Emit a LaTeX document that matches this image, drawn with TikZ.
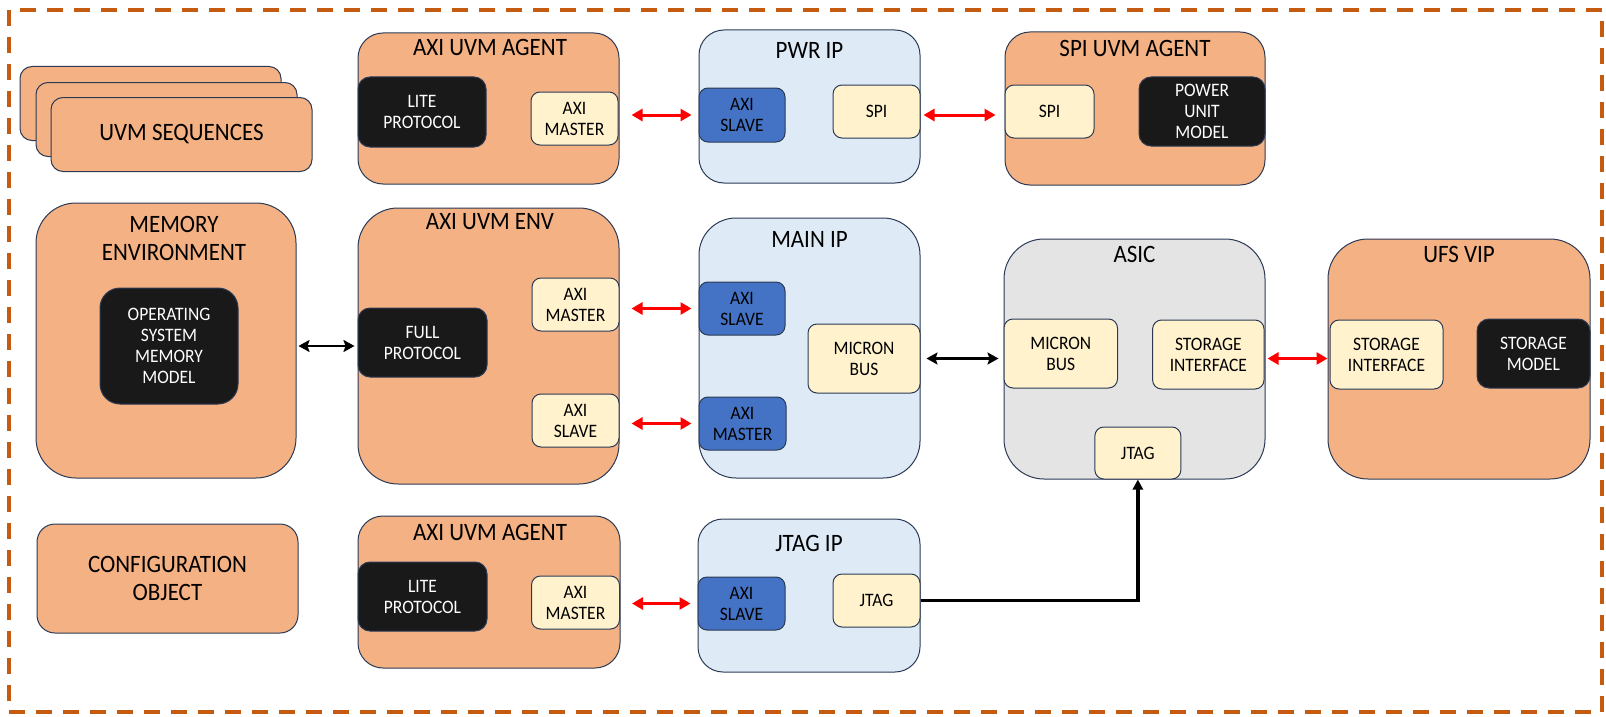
\documentclass[tikz,border=0pt]{standalone}
\usepackage{fontspec}
\setmainfont{Carlito}[FakeStretch=0.92]
\usepackage{xcolor}
\usetikzlibrary{arrows.meta, positioning}

\definecolor{sand}{HTML}{F4B183}
\definecolor{skyfill}{HTML}{DEEBF7}
\definecolor{greyfill}{HTML}{E4E4E4}
\definecolor{cream}{HTML}{FFF2CC}
\definecolor{royal}{HTML}{4472C4}
\definecolor{ink}{HTML}{191919}
\definecolor{edgeblue}{HTML}{2B3A55}
\definecolor{rust}{HTML}{C55A11}

\newcommand{\headfont}{\fontsize{25}{28}\selectfont}
\newcommand{\portfont}{\fontsize{19}{21}\selectfont}

\tikzset{
  pane/.style={draw=edgeblue, line width=1pt, inner sep=0pt, align=center},
  dims/.style 2 args={minimum width=#1pt, minimum height=#2pt},
  orangebox/.style={pane, fill=sand, rounded corners=#1},
  bluebox/.style={pane, fill=skyfill, rounded corners=#1},
  greybox/.style={pane, fill=greyfill, rounded corners=#1},
  port/.style={pane, fill=cream, rounded corners=9pt, font=\portfont},
  blueport/.style={pane, fill=royal, rounded corners=9pt, font=\portfont},
  darkbox/.style={pane, fill=ink, text=white, rounded corners=12pt, font=\portfont},
  heading/.style={font=\headfont, align=center, inner sep=0pt},
  redlink/.style={draw=red, line width=3pt, {Triangle[length=11pt,width=12pt]}-{Triangle[length=11pt,width=12pt]}},
  blacklink/.style={draw=black, line width=2.8pt, {Stealth[length=11pt,width=12pt,inset=2pt]}-{Stealth[length=11pt,width=12pt,inset=2pt]}},
  jtaglink/.style={draw=black, line width=3.3pt, -{Triangle[length=10pt,width=10pt]}}
}

\begin{document}
\begin{tikzpicture}[x=1pt, y=-1pt]
\useasboundingbox (0,0) rectangle (1606,717);

% outer frame
\draw[rust, line width=4pt, dash pattern=on 16pt off 11pt] (9,10) rectangle (1602,712);

% UVM sequences stack
\node[orangebox=12pt, dims={261}{74}] (seqA) at (150.5,103.5) {};
\node[orangebox=12pt, dims={261}{74}] (seqB) at (166.5,119.5) {};
\node[orangebox=12pt, dims={261}{74}, font=\headfont] (seqC) at (181.5,134.5) {UVM SEQUENCES};

% memory environment
\node[orangebox=40pt, dims={260}{275}] (mem) at (166,340.5) {};
\node[heading] (memT) at (174,238.5) {MEMORY\\ENVIRONMENT};
\node[darkbox, dims={138}{116}, rounded corners=20pt] (osmm) at (169,346) {OPERATING\\SYSTEM\\MEMORY\\MODEL};

% configuration object
\node[orangebox=18pt, dims={261}{109}, font=\headfont] (cfg) at (167.5,578.5) {CONFIGURATION\\OBJECT};

% AXI agent (top)
\node[orangebox=25pt, dims={261}{151}] (agtop) at (488.5,108.5) {};
\node[heading] (agtopT) at (490,47) {AXI UVM AGENT};
\node[darkbox, dims={128}{70}] (agtopL) at (422,112) {LITE\\PROTOCOL};
\node[port, dims={87}{53}] (agtopM) at (574.5,118.5) {AXI\\MASTER};

% AXI env
\node[orangebox=40pt, dims={261}{276}] (env) at (488.5,346) {};
\node[heading] (envT) at (490,222) {AXI UVM ENV};
\node[darkbox, dims={129}{69}] (envF) at (422.5,342.5) {FULL\\PROTOCOL};
\node[port, dims={87}{53}] (envM) at (575.5,304.5) {AXI\\MASTER};
\node[port, dims={87}{53}] (envS) at (575.5,420.5) {AXI\\SLAVE};

% AXI agent (bottom)
\node[orangebox=25pt, dims={262}{152}] (agbot) at (489,592) {};
\node[heading] (agbotT) at (490,532) {AXI UVM AGENT};
\node[darkbox, dims={129}{69}] (agbotL) at (422.5,596.5) {LITE\\PROTOCOL};
\node[port, dims={88}{53}] (agbotM) at (575.5,602.5) {AXI\\MASTER};

% PWR IP
\node[bluebox=25pt, dims={221}{153}] (pwr) at (809.5,106.5) {};
\node[heading] (pwrT) at (809.5,50) {PWR IP};
\node[blueport, dims={86}{54}] (pwrS) at (742,115) {AXI\\SLAVE};
\node[port, dims={87}{53}] (pwrP) at (876.5,111.5) {SPI};

% MAIN IP
\node[bluebox=37pt, dims={221}{260}] (main) at (809.5,348) {};
\node[heading] (mainT) at (809.5,239) {MAIN IP};
\node[blueport, dims={86}{53}] (mainS) at (742,308.5) {AXI\\SLAVE};
\node[port, dims={112}{69}] (mainB) at (864,358.5) {MICRON\\BUS};
\node[blueport, dims={87}{53}] (mainM) at (742.5,423.5) {AXI\\MASTER};

% JTAG IP
\node[bluebox=25pt, dims={222}{153}] (jtag) at (809,595.5) {};
\node[heading] (jtagT) at (809,543) {JTAG IP};
\node[blueport, dims={87}{53}] (jtagS) at (741.5,603.5) {AXI\\SLAVE};
\node[port, dims={87}{53}] (jtagJ) at (876.5,600.5) {JTAG};

% SPI agent
\node[orangebox=25pt, dims={260}{153}] (spi) at (1135,108.5) {};
\node[heading] (spiT) at (1135,48) {SPI UVM AGENT};
\node[port, dims={89}{53}] (spiP) at (1049.5,111.5) {SPI};
\node[darkbox, dims={126}{69}] (spiU) at (1202,111.5) {POWER\\UNIT\\MODEL};

% ASIC
\node[greybox=40pt, dims={261}{240}] (asic) at (1134.5,359) {};
\node[heading] (asicT) at (1134.5,254) {ASIC};
\node[port, dims={113.5}{69}] (asicB) at (1060.75,353.5) {MICRON\\BUS};
\node[port, dims={111.4}{69}] (asicSI) at (1208.3,354.5) {STORAGE\\INTERFACE};
\node[port, dims={86}{52}] (asicJ) at (1137.85,453) {JTAG};

% UFS VIP
\node[orangebox=40pt, dims={262}{240}] (ufs) at (1459,359) {};
\node[heading] (ufsT) at (1459,254) {UFS VIP};
\node[port, dims={113}{69}] (ufsSI) at (1386.5,354.5) {STORAGE\\INTERFACE};
\node[darkbox, dims={113}{69}] (ufsM) at (1533.5,353.5) {STORAGE\\MODEL};

% links
\draw[redlink, shorten <=13pt, shorten >=7pt] (agtopM.east |- pwrS) -- (pwrS.west);
\draw[redlink, shorten <=3pt, shorten >=9pt] (pwrP.east |- pwrS) -- (spiP.west |- pwrS);
\draw[blacklink, shorten <=2pt, shorten >=3pt] (mem.east |- osmm) -- (envF.west |- osmm);
\draw[redlink, shorten <=12pt, shorten >=7pt] (envM.east |- mainS) -- (mainS.west);
\draw[redlink, shorten <=12pt, shorten >=7pt] (envS.east |- mainM) -- (mainM.west);
\draw[blacklink, shorten <=6pt, shorten >=5pt] (mainB.east) -- (mainB.east -| asicB.west);
\draw[redlink, shorten <=3pt, shorten >=2pt] (asicSI.east |- mainB) -- (ufsSI.west |- mainB);
\draw[redlink, shorten <=12pt, shorten >=7pt] (agbotM.east |- jtagS) -- (jtagS.west);
\draw[jtaglink] (jtagJ.east) -- (jtagJ.east -| asicJ.south) -- (asicJ.south);
\end{tikzpicture}
\end{document}
